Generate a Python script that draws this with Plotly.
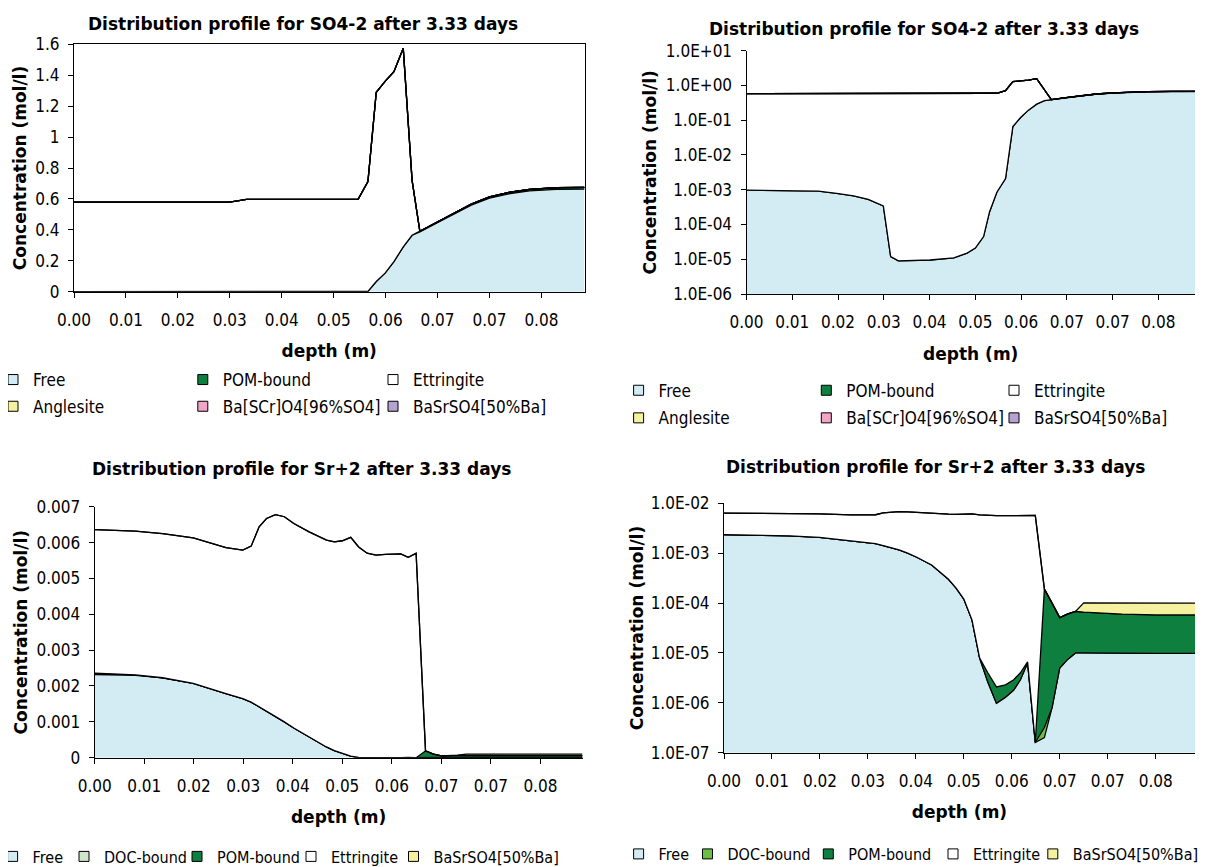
import plotly.graph_objects as go

# The page body has an 8 px margin, so the figure is 8 px smaller and every
# position below is given in window pixels and shifted by that margin.
OFF = 8
FW, FH = 1207 - OFF, 867 - OFF

# ---------------- data ----------------
x_tick_pos = [0.00, 0.01, 0.02, 0.03, 0.04, 0.05, 0.06, 0.07, 0.08, 0.09]
x_tick_labels = ["0.00", "0.01", "0.02", "0.03", "0.04", "0.05", "0.06", "0.07", "0.07", "0.08"]

so4_depth = [0.0000, 0.0095, 0.0157, 0.0197, 0.0234, 0.0266, 0.0299, 0.0315, 0.0332, 0.0401,
             0.0453, 0.0482, 0.0500, 0.0518, 0.0531, 0.0547, 0.0566, 0.0582, 0.0599, 0.0616,
             0.0634, 0.0651, 0.0666, 0.0698, 0.0731, 0.0765, 0.0800, 0.0840, 0.0877, 0.0929, 0.0983]
so4_free = [9.7e-4, 9.5e-4, 9.1e-4, 7.9e-4, 6.7e-4, 5.3e-4, 3.4e-4, 1.2e-5, 9.0e-6, 9.5e-6,
            1.1e-5, 1.5e-5, 2.1e-5, 4.5e-5, 2.3e-4, 8.5e-4, 2.1e-3, 0.066, 0.12, 0.195,
            0.29, 0.365, 0.387, 0.443, 0.503, 0.56, 0.605, 0.635, 0.652, 0.662, 0.664]
so4_pom = [0, 0, 0, 0, 0, 0, 0, 0, 0, 0,
           0, 0, 0, 0, 0, 0, 0, 0, 0, 0,
           0, 0, 0.004, 0.005, 0.006, 0.007, 0.008, 0.009, 0.010, 0.011, 0.011]
so4_ettringite = [0.578, 0.578, 0.578, 0.578, 0.578, 0.578, 0.579, 0.588, 0.597, 0.597,
                  0.597, 0.597, 0.597, 0.597, 0.597, 0.596, 0.710, 1.224, 1.240, 1.228,
                  1.284, 0.355, 0, 0, 0, 0, 0, 0, 0, 0, 0]
so4_anglesite = [0, 0, 0, 0, 0, 0, 0, 0, 0, 0, 0, 0, 0, 0, 0, 0,
                 0, 0, 0, 0, 0, 0, 0, 0, 0, 0, 0, 0, 0, 0, 0]
so4_bascro4 = [0, 0, 0, 0, 0, 0, 0, 0, 0, 0, 0, 0, 0, 0, 0, 0,
               0, 0, 0, 0, 0, 0, 0, 0, 0, 0, 0, 0, 0, 0, 0]
so4_basrso4 = [0, 0, 0, 0, 0, 0, 0, 0, 0, 0, 0, 0, 0, 0, 0, 0,
               0, 0, 0, 0, 0, 0, 0, 0, 0, 0, 0, 0, 0, 0, 0]

sr_depth = [0.0000, 0.0082, 0.0137, 0.0199, 0.0265, 0.0299, 0.0316, 0.0332, 0.0347, 0.0365,
            0.0383, 0.0402, 0.0433, 0.0451, 0.0468, 0.0484, 0.0500, 0.0517, 0.0533, 0.0550,
            0.0568, 0.0587, 0.0604, 0.0618, 0.0633, 0.0649, 0.0668, 0.0684, 0.0700, 0.0717,
            0.0733, 0.0750, 0.0830, 0.0900, 0.0985]
sr_free = [2.32e-3, 2.30e-3, 2.23e-3, 2.07e-3, 1.79e-3, 1.65e-3, 1.55e-3, 1.42e-3, 1.30e-3, 1.16e-3,
           1.0e-3, 8.3e-4, 5.8e-4, 4.2e-4, 3.0e-4, 2.0e-4, 1.2e-4, 4.6e-5, 7.9e-6, 2.6e-6,
           9.8e-7, 1.3e-6, 1.8e-6, 2.9e-6, 6.3e-6, 1.6e-7, 2.0e-7, 8.0e-7, 5.0e-6, 7.5e-6,
           1.0e-5, 1.0e-5, 9.8e-6, 9.8e-6, 9.8e-6]
sr_doc = [4e-5, 1e-5, 0, 0, 0, 0, 0, 0, 0, 0,
          0, 0, 0, 0, 0, 0, 0, 0, 0, 0,
          0, 0, 0, 0, 0, 0, 1.2e-7, 0, 0, 0,
          0, 0, 0, 0, 0]
sr_pom = [0, 0, 0, 0, 0, 0, 0, 0, 0, 0,
          0, 0, 0, 0, 0, 0, 0, 0, 0, 1.4e-6,
          1.1e-6, 1.0e-6, 1.1e-6, 1.1e-6, 0.3e-6, 0, 1.9e-4, 1.0e-4, 4.6e-5, 5.3e-5,
          5.8e-5, 5.6e-5, 5.0e-5, 4.8e-5, 4.8e-5]
sr_ettringite = [4.00e-3, 4.01e-3, 4.02e-3, 4.06e-3, 4.07e-3, 4.14e-3, 4.35e-3, 5.02e-3, 5.37e-3, 5.62e-3,
                 5.72e-3, 5.70e-3, 5.72e-3, 5.76e-3, 5.77e-3, 5.82e-3, 5.93e-3, 6.10e-3, 5.87e-3, 5.70e-3,
                 5.65e-3, 5.67e-3, 5.68e-3, 5.68e-3, 5.58e-3, 5.70e-3, 0, 0, 0, 0,
                 0, 0, 0, 0, 0]
sr_basrso4 = [0, 0, 0, 0, 0, 0, 0, 0, 0, 0,
              0, 0, 0, 0, 0, 0, 0, 0, 0, 0,
              0, 0, 0, 0, 0, 0, 0, 0, 0, 0,
              0, 3.5e-5, 4.0e-5, 4.2e-5, 4.2e-5]

log_ticks_so4 = [1e-6, 1e-5, 1e-4, 1e-3, 1e-2, 1e-1, 1e0, 1e1]
log_labels_so4 = ["1.0E-06", "1.0E-05", "1.0E-04", "1.0E-03", "1.0E-02", "1.0E-01", "1.0E+00", "1.0E+01"]
log_ticks_sr = [1e-7, 1e-6, 1e-5, 1e-4, 1e-3, 1e-2]
log_labels_sr = ["1.0E-07", "1.0E-06", "1.0E-05", "1.0E-04", "1.0E-03", "1.0E-02"]

title_so4 = "Distribution profile for SO4-2 after 3.33 days"
title_sr = "Distribution profile for Sr+2 after 3.33 days"

# ---------------- style ----------------
REG = "DejaVu Sans Condensed, Liberation Sans, sans-serif"
BOLD = "DejaVu Sans, sans-serif"
C_FREE = "#D3ECF3"
C_DOC_L = "#CFE6C9"
C_DOC_R = "#6CBF45"
C_POM = "#0F7F3F"
C_ETT = "#FFFFFF"
C_ANG = "#F6F19E"
C_BSC = "#F3A5C6"
C_BSR_P = "#B6A2D2"
C_BSR_Y = "#F6F19E"


def sx(p):
    return (p - OFF) / FW


def sy(p):
    return 1 - (p - OFF) / FH


fig = go.Figure()


def add_stack(xa, ya, group, x, series):
    for name, vals, col in series:
        fig.add_trace(go.Scatter(
            x=x, y=vals, xaxis=xa, yaxis=ya, stackgroup=group, mode="lines",
            line=dict(color="black", width=1.3), fillcolor=col, name=name,
            showlegend=False, hoverinfo="skip"))


def add_legend(xa, ya, legend_id, items):
    for name, col, w in items:
        fig.add_trace(go.Scatter(
            x=[None], y=[None], xaxis=xa, yaxis=ya, mode="markers", name=name,
            marker=dict(symbol="square", size=10, color=col, line=dict(color="black", width=1)),
            legend=legend_id, legendwidth=w, showlegend=True, hoverinfo="skip"))


so4_series_names = ["Free", "POM-bound", "Ettringite", "Anglesite", "Ba[SCr]O4[96%SO4]", "BaSrSO4[50%Ba]"]
so4_series_vals = [so4_free, so4_pom, so4_ettringite, so4_anglesite, so4_bascro4, so4_basrso4]
so4_series_cols = [C_FREE, C_POM, C_ETT, C_ANG, C_BSC, C_BSR_P]
sr_series_names = ["Free", "DOC-bound", "POM-bound", "Ettringite", "BaSrSO4[50%Ba]"]
sr_series_vals = [sr_free, sr_doc, sr_pom, sr_ettringite, sr_basrso4]

add_stack("x", "y", "tl", so4_depth, list(zip(so4_series_names, so4_series_vals, so4_series_cols)))
add_stack("x2", "y2", "tr", so4_depth, list(zip(so4_series_names, so4_series_vals, so4_series_cols)))
add_stack("x3", "y3", "bl", sr_depth,
          list(zip(sr_series_names, sr_series_vals, [C_FREE, C_DOC_L, C_POM, C_ETT, C_BSR_Y])))
add_stack("x4", "y4", "br", sr_depth,
          list(zip(sr_series_names, sr_series_vals, [C_FREE, C_DOC_R, C_POM, C_ETT, C_BSR_Y])))

# legends (item widths follow the symbol spacing of the reference)
add_legend("x", "y", "legend", [("Free", C_FREE, 144.8), ("POM-bound", C_POM, 145.2), ("Ettringite", C_ETT, 0)])
add_legend("x", "y", "legend2", [("Anglesite", C_ANG, 144.8), ("Ba[SCr]O4[96%SO4]", C_BSC, 145.2),
                                  ("BaSrSO4[50%Ba]", C_BSR_P, 0)])
add_legend("x2", "y2", "legend3", [("Free", C_FREE, 142.7), ("POM-bound", C_POM, 142.7), ("Ettringite", C_ETT, 0)])
add_legend("x2", "y2", "legend4", [("Anglesite", C_ANG, 142.7), ("Ba[SCr]O4[96%SO4]", C_BSC, 142.7),
                                    ("BaSrSO4[50%Ba]", C_BSR_P, 0)])
add_legend("x3", "y3", "legend5", [("Free", C_FREE, 26.4), ("DOC-bound", C_DOC_L, 68), ("POM-bound", C_POM, 69),
                                    ("Ettringite", C_ETT, 57.5), ("BaSrSO4[50%Ba]", C_BSR_Y, 0)])
add_legend("x4", "y4", "legend6", [("Free", C_FREE, 23.9), ("DOC-bound", C_DOC_R, 75.8), ("POM-bound", C_POM, 79.7),
                                    ("Ettringite", C_ETT, 54.8), ("BaSrSO4[50%Ba]", C_BSR_Y, 0)])

tickfont = dict(family=REG, size=17, color="black")
titlefont = dict(family=BOLD, size=17, color="black", weight="bold")


def xaxis(left, right, xmax, anchor, mirror=False):
    return dict(domain=[sx(left), sx(right)], anchor=anchor, range=[0, xmax], tickmode="array",
                tickvals=x_tick_pos, ticktext=x_tick_labels, ticks="outside", ticklen=5,
                tickcolor="black", showline=True, linecolor="black", linewidth=1, mirror=mirror,
                showgrid=False, zeroline=False, tickfont=tickfont, ticklabelstandoff=8,
                title=dict(text="depth (m)", font=titlefont, standoff=16))


def yaxis_lin(top, bottom, rng, dt, anchor, standoff, mirror=False):
    return dict(domain=[sy(bottom), sy(top)], anchor=anchor, range=rng, dtick=dt, tick0=0,
                ticks="outside", ticklen=5, tickcolor="black", showline=True, linecolor="black",
                linewidth=1, mirror=mirror, showgrid=False, zeroline=False, tickfont=tickfont,
                ticklabelstandoff=5,
                title=dict(text="Concentration (mol/l)", font=titlefont, standoff=standoff))


def yaxis_log(top, bottom, rng, tv, tt, anchor, standoff):
    return dict(domain=[sy(bottom), sy(top)], anchor=anchor, type="log", range=rng, tickmode="array",
                tickvals=tv, ticktext=tt, ticks="outside", ticklen=5, tickcolor="black", showline=True,
                linecolor="black", linewidth=1, showgrid=False, zeroline=False, tickfont=tickfont,
                ticklabelstandoff=5,
                title=dict(text="Concentration (mol/l)", font=titlefont, standoff=standoff))


def legend_cfg(sym_x, ypx, size):
    return dict(orientation="h", x=(sym_x - 20 - OFF) / FW, xanchor="left", y=sy(ypx), yanchor="middle",
                font=dict(family=REG, size=size, color="black"), bgcolor="rgba(0,0,0,0)",
                borderwidth=0, tracegroupgap=0, traceorder="normal",
                itemclick=False, itemdoubleclick=False)


fig.update_layout(
    width=FW, height=FH, margin=dict(l=0, r=0, t=0, b=0, autoexpand=False),
    paper_bgcolor="white", plot_bgcolor="white",
    xaxis=xaxis(74, 584.5, 0.0983, "y", mirror=True),
    yaxis=yaxis_lin(44.3, 291.7, [0, 1.6], 0.2, "x", 4, mirror=True),
    xaxis2=xaxis(746.5, 1195, 0.0980, "y2"),
    yaxis2=yaxis_log(50.7, 294, [-6, 1], log_ticks_so4, log_labels_so4, "x2", 4),
    xaxis3=xaxis(94.7, 582.5, 0.0985, "y3"),
    yaxis3=yaxis_lin(506.7, 757.7, [0, 0.007], 0.001, "x3", 4),
    xaxis4=xaxis(724, 1195, 0.0982, "y4"),
    yaxis4=yaxis_log(503.3, 752.7, [-7, -2], log_ticks_sr, log_labels_sr, "x4", 2),
    legend=legend_cfg(13, 380, 17),
    legend2=legend_cfg(13, 406.7, 17),
    legend3=legend_cfg(638.6, 390.7, 17),
    legend4=legend_cfg(638.6, 418.3, 17),
    legend5=legend_cfg(12.6, 856.5, 16),
    legend6=legend_cfg(638.6, 854, 16),
    showlegend=True,
)

for txt, cx, cy in [(title_so4, 302.5, 24), (title_so4, 923.8, 29), (title_sr, 301.3, 469.3), (title_sr, 935.3, 466.7)]:
    fig.add_annotation(text=txt, x=sx(cx), y=sy(cy), xref="paper", yref="paper",
                       xanchor="center", yanchor="middle", showarrow=False,
                       font=dict(family=BOLD, size=17, color="black", weight="bold"))

fig.write_html("out.html")
